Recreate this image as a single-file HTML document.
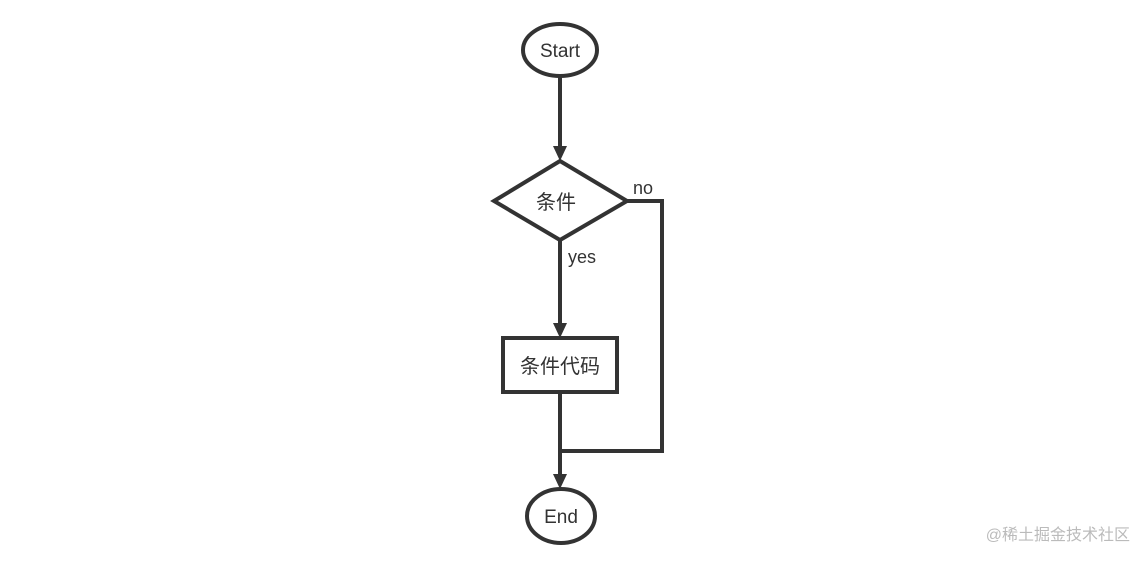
<!DOCTYPE html>
<html><head><meta charset="utf-8"><style>
body{margin:0;background:#fff;}
svg text{font-family:"Liberation Sans","Noto Sans CJK SC",sans-serif;fill:#333;}
</style></head><body>
<svg width="1148" height="562" viewBox="0 0 1148 562" xmlns="http://www.w3.org/2000/svg">
<g stroke="#333" stroke-width="4" fill="none">
<ellipse cx="560" cy="50" rx="37" ry="26" fill="#fff"/>
<line x1="560" y1="76" x2="560" y2="148"/>
<polygon points="494,201 560,161 627,201 560,240" fill="#fff"/>
<line x1="560" y1="240" x2="560" y2="324"/>
<rect x="503" y="338" width="114" height="54" fill="#fff"/>
<line x1="560" y1="392" x2="560" y2="476"/>
<polyline points="627,201 662,201 662,451 560,451"/>
<ellipse cx="561" cy="516" rx="34" ry="27" fill="#fff"/>
</g>
<g fill="#333">
<polygon points="553,146 567,146 560,161"/>
<polygon points="553,323 567,323 560,338"/>
<polygon points="553,474 567,474 560,489"/>
</g>
<text x="560" y="57" font-size="19" text-anchor="middle">Start</text>
<text x="556" y="209" font-size="20" text-anchor="middle">条件</text>
<text x="560" y="373" font-size="20" text-anchor="middle">条件代码</text>
<text x="561" y="523" font-size="19" text-anchor="middle">End</text>
<text x="633" y="194" font-size="18">no</text>
<text x="568" y="263" font-size="18">yes</text>
<text x="1130" y="540" font-size="16" text-anchor="end" style="fill:#bbb">@稀土掘金技术社区</text>
</svg>
</body></html>
